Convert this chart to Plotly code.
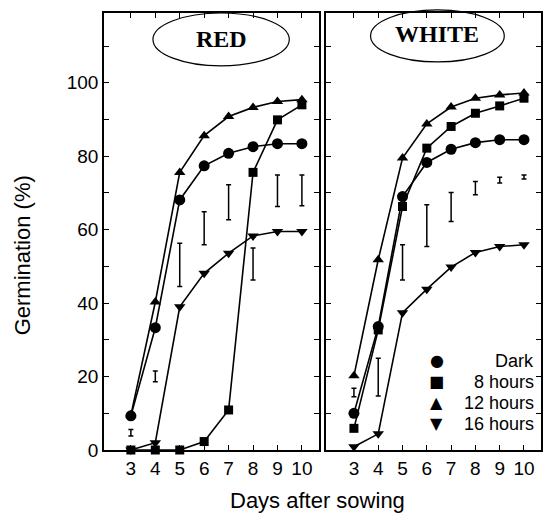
import plotly.graph_objects as go

days = [3, 4, 5, 6, 7, 8, 9, 10]

red_dark = [9.3, 33.3, 68.1, 77.4, 80.8, 82.6, 83.4, 83.4]
red_8h = [0, 0, 0, 2.3, 10.9, 75.6, 89.9, 94.0]
red_12h = [9.5, 40.3, 75.6, 85.6, 90.8, 93.3, 94.9, 95.4]
red_16h = [0, 2.0, 39.0, 48.1, 53.6, 58.3, 59.5, 59.5]
red_err_lo = [3.8, 18.6, 44.5, 55.9, 62.7, 46.3, 66.3, 66.5]
red_err_hi = [5.6, 21.5, 56.3, 64.9, 72.2, 55.0, 74.9, 74.9]

white_dark = [10.0, 33.6, 69.0, 78.3, 81.9, 83.7, 84.5, 84.5]
white_8h = [5.9, 32.7, 66.3, 82.2, 88.1, 91.7, 93.7, 95.8]
white_12h = [20.2, 51.8, 79.5, 88.8, 93.4, 95.8, 96.7, 97.2]
white_16h = [0.9, 4.4, 37.4, 43.8, 49.8, 53.8, 55.4, 55.9]
white_err_lo = [14.5, 14.7, 46.3, 55.4, 62.2, 69.5, 72.7, 73.8]
white_err_hi = [16.8, 25.0, 55.9, 66.8, 70.1, 73.1, 74.3, 74.9]

series_names = ["Dark", "8 hours", "12 hours", "16 hours"]
symbols = ["circle", "square", "triangle-up", "triangle-down"]
legend_glyphs = ["\u25cf", "\u25a0", "\u25b2", "\u25bc"]
panel_titles = ["RED", "WHITE"]
y_tick_vals = list(range(0, 120, 10))
y_tick_text = [str(v) if v % 20 == 0 and v <= 100 else "" for v in y_tick_vals]

panels = [
    ([red_dark, red_8h, red_12h, red_16h], red_err_lo, red_err_hi, "x", "y"),
    ([white_dark, white_8h, white_12h, white_16h], white_err_lo, white_err_hi, "x2", "y2"),
]

fig = go.Figure()
for series, lo, hi, xa, ya in panels:
    mid = [(a + b) / 2 for a, b in zip(lo, hi)]
    fig.add_trace(go.Scatter(
        x=days, y=mid, xaxis=xa, yaxis=ya, mode="markers",
        marker=dict(size=1, opacity=0),
        error_y=dict(type="data", symmetric=False,
                     array=[h - m for h, m in zip(hi, mid)],
                     arrayminus=[m - l for m, l in zip(mid, lo)],
                     color="black", thickness=1.5, width=2.5),
        showlegend=False, hoverinfo="skip"))
    for vals, sym, name in zip(series, symbols, series_names):
        sz = 10 if sym.startswith("triangle") else (9 if sym == "square" else 11)
        fig.add_trace(go.Scatter(
            x=days, y=vals, xaxis=xa, yaxis=ya, mode="lines+markers", name=name,
            line=dict(color="black", width=1.6),
            marker=dict(symbol=sym, size=sz, color="black"),
            cliponaxis=False, showlegend=False))

font_family = "Liberation Sans, Arial, sans-serif"
axis_common = dict(
    showline=True, linecolor="black", linewidth=1.5, mirror="ticks",
    ticks="inside", ticklen=5, tickwidth=1.2, tickcolor="black",
    showgrid=False, zeroline=False,
    tickfont=dict(family=font_family, size=19, color="black"),
)

fig.update_layout(
    width=548, height=517,
    margin=dict(l=104, r=5, t=13, b=67),
    paper_bgcolor="white", plot_bgcolor="white",
    xaxis=dict(domain=[0, 0.492], range=[1.9, 10.7], tickvals=days, anchor="y", **axis_common),
    xaxis2=dict(domain=[0.508, 1], range=[1.85, 10.7], tickvals=days, anchor="y2", **axis_common),
    yaxis=dict(range=[0, 119], tickvals=y_tick_vals, ticktext=y_tick_text, anchor="x", **axis_common),
    yaxis2=dict(range=[0, 119], tickvals=y_tick_vals, ticktext=[""] * len(y_tick_vals),
                anchor="x2", **axis_common),
    showlegend=False,
)

# Panel title ellipses
ellipses = [(0.112, 0.424, 0.879, 1.0), (0.610, 0.916, 0.888, 1.007)]
centers = [(0.268, 0.94), (0.762, 0.952)]
for (x0, x1, y0, y1), (cx, cy), t in zip(ellipses, centers, panel_titles):
    fig.add_shape(type="circle", xref="paper", yref="paper", x0=x0, x1=x1, y0=y0, y1=y1,
                  line=dict(color="black", width=1.2))
    fig.add_annotation(xref="paper", yref="paper", x=cx, y=cy, text="<b>%s</b>" % t,
                       xanchor="center", yanchor="middle", showarrow=False,
                       font=dict(family="Liberation Serif, Times New Roman, serif",
                                 size=24, color="black"))

# Manual legend
legend_rows = [0.204, 0.156, 0.108, 0.060]
for yy, g, name in zip(legend_rows, legend_glyphs, series_names):
    fig.add_annotation(xref="paper", yref="paper", x=0.761, y=yy, text=g, showarrow=False,
                       xanchor="center", yanchor="middle",
                       font=dict(family="DejaVu Sans", size=16, color="black"))
    fig.add_annotation(xref="paper", yref="paper", x=0.988, y=yy, text=name, showarrow=False,
                       xanchor="right", yanchor="middle",
                       font=dict(family=font_family, size=18, color="black"))

# Axis titles
fig.add_annotation(xref="paper", yref="paper", x=(22 - 104) / 439, y=(450 - 255) / 437,
                   text="Germination (%)", textangle=-90, showarrow=False,
                   xanchor="center", yanchor="middle",
                   font=dict(family=font_family, size=22, color="black"))
fig.add_annotation(xref="paper", yref="paper", x=(318 - 104) / 439, y=(450 - 500) / 437,
                   text="Days after sowing", showarrow=False,
                   xanchor="center", yanchor="middle",
                   font=dict(family=font_family, size=22, color="black"))

fig.write_html("out.html", config={"displayModeBar": False},
               post_script="document.body.style.margin='0';")
